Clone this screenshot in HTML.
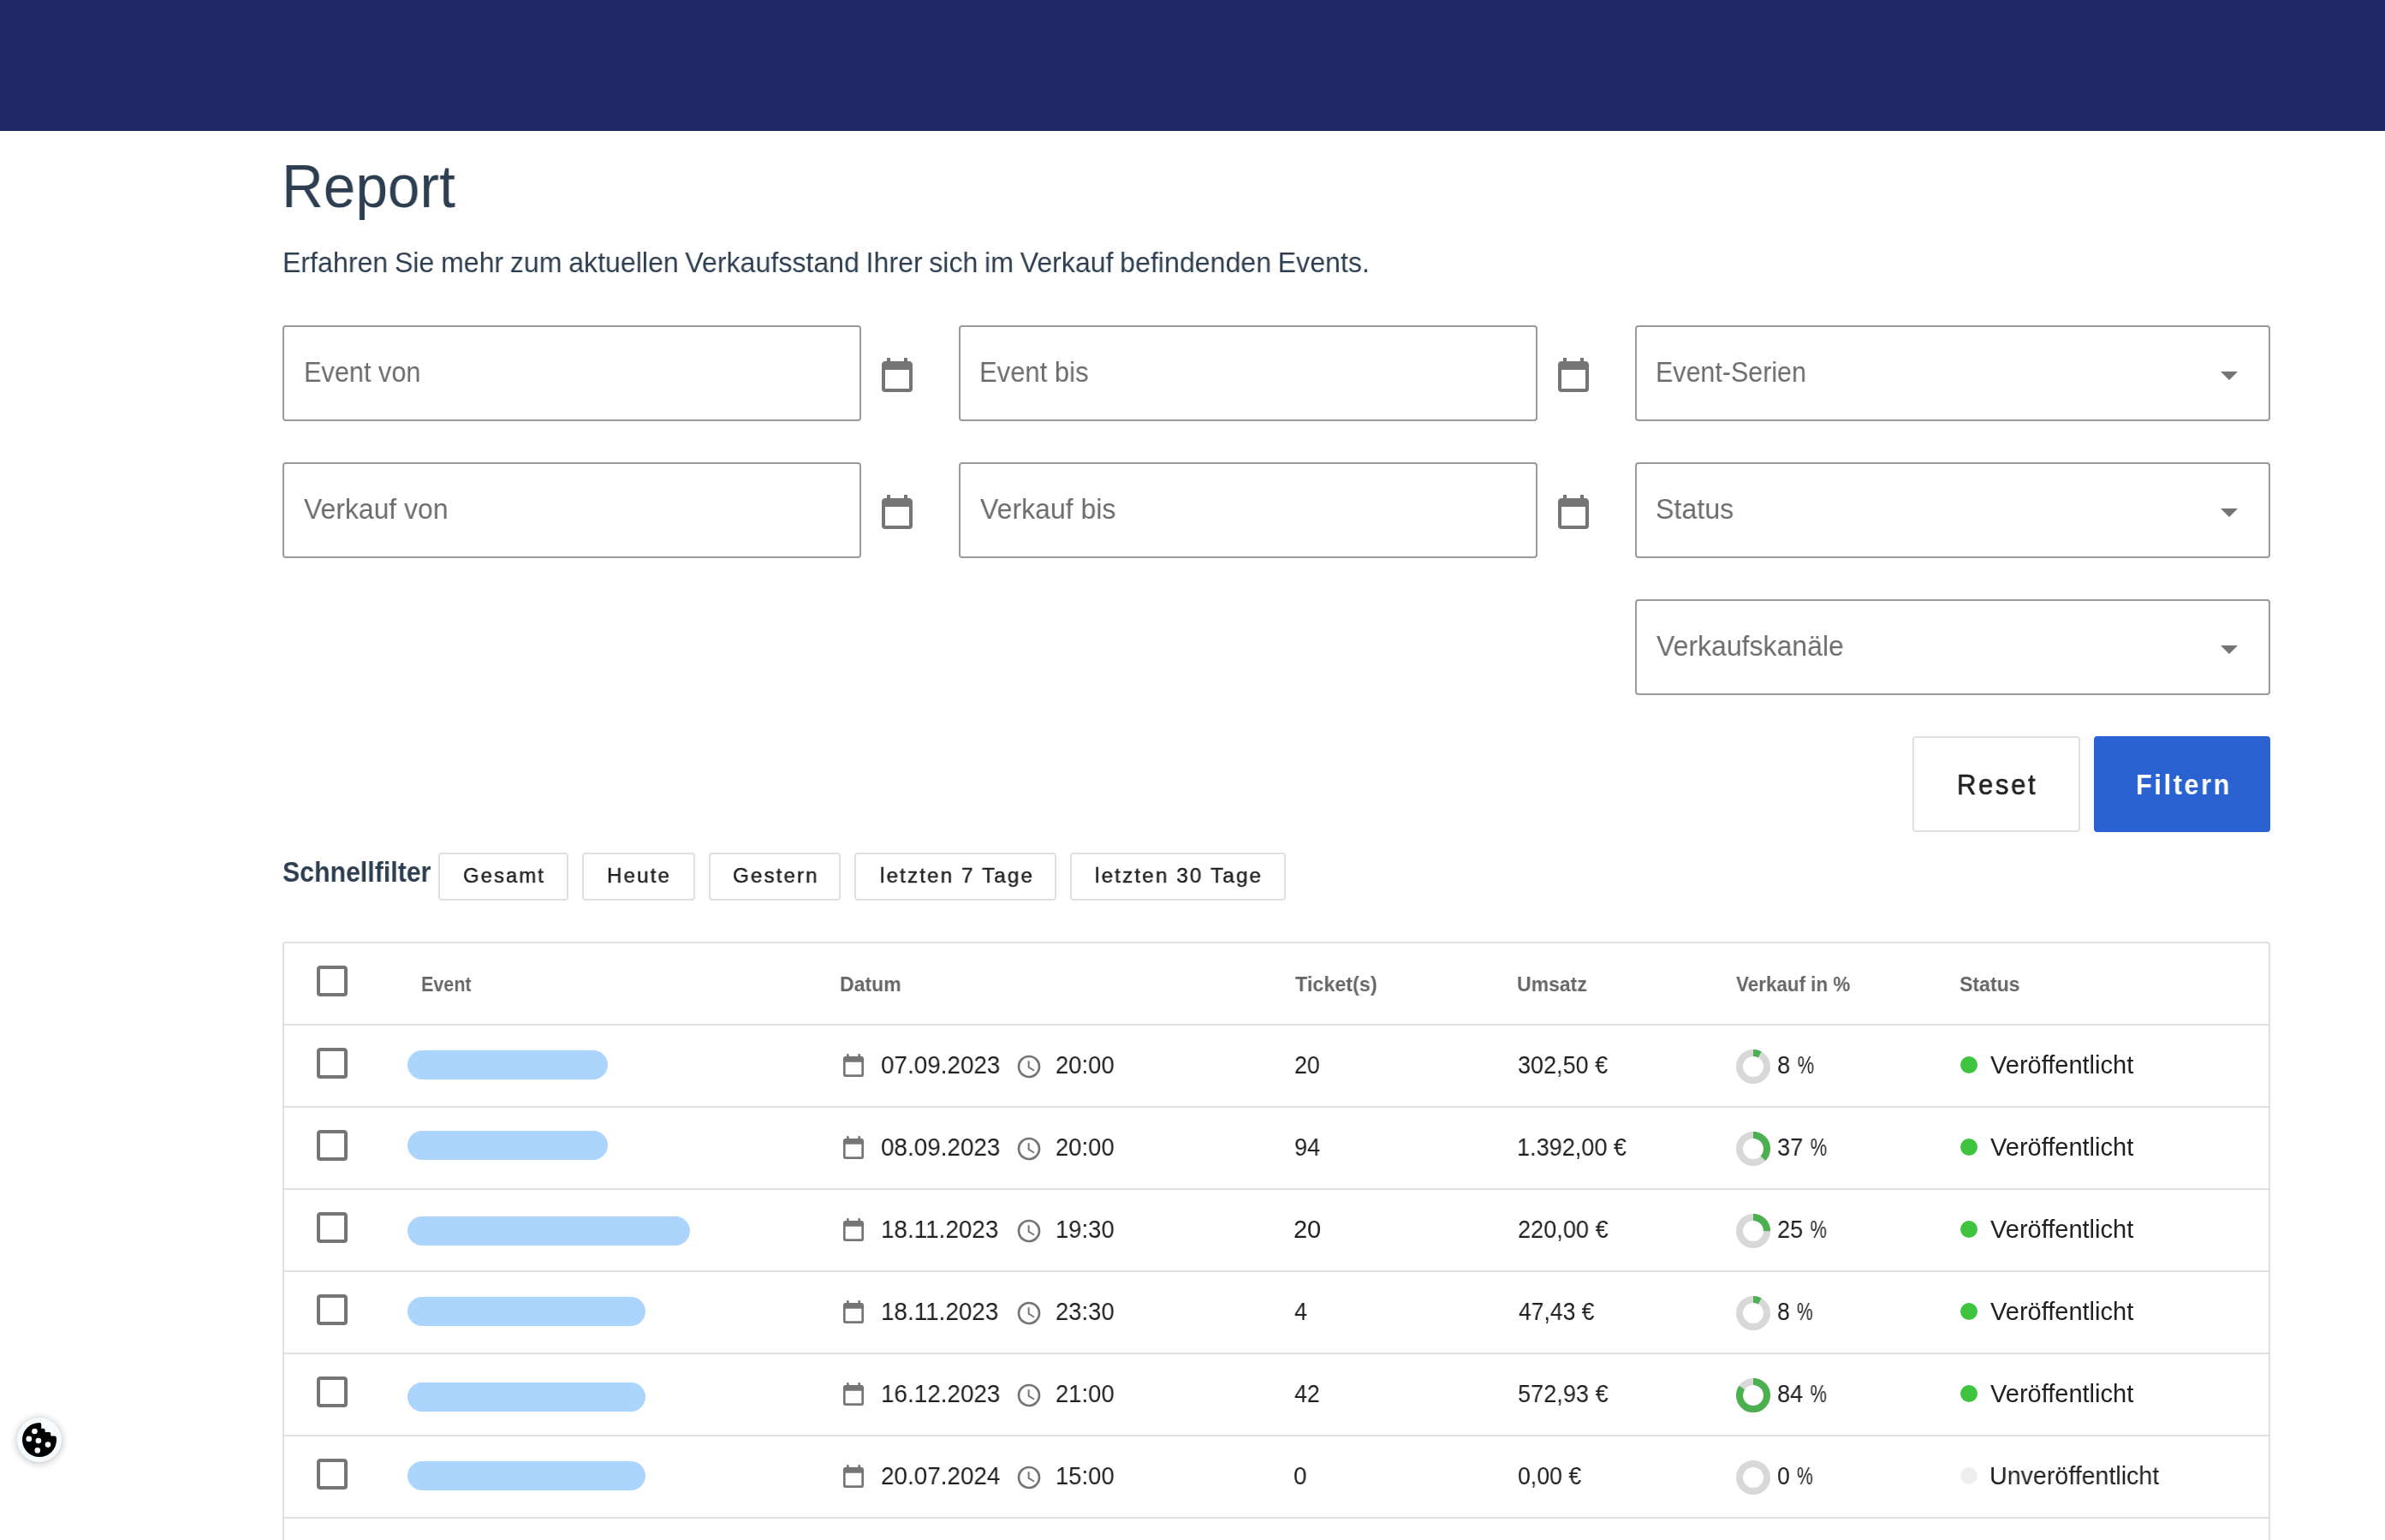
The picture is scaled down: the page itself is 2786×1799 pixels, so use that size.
<!DOCTYPE html>
<html lang="de"><head><meta charset="utf-8"><title>Report</title>
<style>
html,body{margin:0;padding:0;background:#fff;}
body{width:2786px;height:1799px;overflow:hidden;position:relative;font-family:"Liberation Sans",sans-serif;}
.t{position:absolute;white-space:nowrap;line-height:1;display:block;transform-origin:0 50%;will-change:transform;}
.pc{display:inline-block;transform:scaleX(.80);transform-origin:0 50%;margin-left:0.5px;}
.i{position:absolute;display:block;}
.abs{position:absolute;box-sizing:border-box;}
.hdr{left:0;top:0;width:2786px;height:153px;background:#202868;}
.field{height:112px;border:2px solid #9a9a9a;border-radius:4px;background:#fff;}
.btn{border:2px solid #e0e0e0;border-radius:4px;background:#fff;}
.table{left:330px;top:1100px;width:2322px;height:800px;border:2px solid #e0e0e0;border-radius:4px;background:#fff;}
.line{left:332px;width:2318px;height:2px;background:#e0e0e0;}
.pill{height:34px;border-radius:17px;background:#abd5fd;}
.dot{width:20px;height:20px;border-radius:50%;}
</style></head><body>
<div class="abs hdr"></div>
<span id="title" class="t" style="left:329.20px;top:182.82px;font-size:70.38px;font-weight:400;color:#2c3e50;letter-spacing:0.000px;transform:scaleX(0.9599);">Report</span>
<span id="sub" class="t" style="left:329.60px;top:289.56px;font-size:33.12px;font-weight:400;color:#2c3e50;letter-spacing:0.000px;word-spacing:-1.3px;transform:scaleX(0.9701);">Erfahren Sie mehr zum aktuellen Verkaufsstand Ihrer sich im Verkauf befindenden Events.</span>
<div class="abs field" style="left:330px;top:380px;width:676px"></div>
<span id="f1" class="t" style="left:354.50px;top:417.66px;font-size:33.12px;font-weight:400;color:#6c6c6c;letter-spacing:0.000px;transform:scaleX(0.9266);">Event von</span>
<svg class="i " style="left:1024.00px;top:416.00px" width="48" height="48" viewBox="0 0 24 24"><path fill="#757575" d="M19,19H5V8H19M16,1V3H8V1H6V3H5C3.89,3 3,3.89 3,5V19A2,2 0 0,0 5,21H19A2,2 0 0,0 21,19V5C21,3.89 20.1,3 19,3H18V1"/></svg>
<div class="abs field" style="left:1120px;top:380px;width:676px"></div>
<span id="f2" class="t" style="left:1144.30px;top:417.66px;font-size:33.12px;font-weight:400;color:#6c6c6c;letter-spacing:0.000px;transform:scaleX(0.9362);">Event bis</span>
<svg class="i " style="left:1814.00px;top:416.00px" width="48" height="48" viewBox="0 0 24 24"><path fill="#757575" d="M19,19H5V8H19M16,1V3H8V1H6V3H5C3.89,3 3,3.89 3,5V19A2,2 0 0,0 5,21H19A2,2 0 0,0 21,19V5C21,3.89 20.1,3 19,3H18V1"/></svg>
<div class="abs field" style="left:1910px;top:380px;width:742px"></div>
<span id="f3" class="t" style="left:1934.30px;top:417.66px;font-size:33.12px;font-weight:400;color:#6c6c6c;letter-spacing:0.000px;transform:scaleX(0.9189);">Event-Serien</span>
<svg class="i " style="left:2580.00px;top:414.00px" width="48" height="48" viewBox="0 0 24 24"><path fill="#757575" d="M7,10L12,15L17,10H7Z"/></svg>
<div class="abs field" style="left:330px;top:540px;width:676px"></div>
<span id="f4" class="t" style="left:355.30px;top:577.66px;font-size:33.12px;font-weight:400;color:#6c6c6c;letter-spacing:0.000px;transform:scaleX(0.9633);">Verkauf von</span>
<svg class="i " style="left:1024.00px;top:576.00px" width="48" height="48" viewBox="0 0 24 24"><path fill="#757575" d="M19,19H5V8H19M16,1V3H8V1H6V3H5C3.89,3 3,3.89 3,5V19A2,2 0 0,0 5,21H19A2,2 0 0,0 21,19V5C21,3.89 20.1,3 19,3H18V1"/></svg>
<div class="abs field" style="left:1120px;top:540px;width:676px"></div>
<span id="f5" class="t" style="left:1145.30px;top:577.66px;font-size:33.12px;font-weight:400;color:#6c6c6c;letter-spacing:0.000px;transform:scaleX(0.9668);">Verkauf bis</span>
<svg class="i " style="left:1814.00px;top:576.00px" width="48" height="48" viewBox="0 0 24 24"><path fill="#757575" d="M19,19H5V8H19M16,1V3H8V1H6V3H5C3.89,3 3,3.89 3,5V19A2,2 0 0,0 5,21H19A2,2 0 0,0 21,19V5C21,3.89 20.1,3 19,3H18V1"/></svg>
<div class="abs field" style="left:1910px;top:540px;width:742px"></div>
<span id="f6" class="t" style="left:1933.70px;top:577.66px;font-size:33.12px;font-weight:400;color:#6c6c6c;letter-spacing:0.000px;transform:scaleX(0.9716);">Status</span>
<svg class="i " style="left:2580.00px;top:574.00px" width="48" height="48" viewBox="0 0 24 24"><path fill="#757575" d="M7,10L12,15L17,10H7Z"/></svg>
<div class="abs field" style="left:1910px;top:700px;width:742px"></div>
<span id="f7" class="t" style="left:1934.70px;top:737.66px;font-size:33.12px;font-weight:400;color:#6c6c6c;letter-spacing:0.000px;transform:scaleX(0.9662);">Verkaufskanäle</span>
<svg class="i " style="left:2580.00px;top:734.00px" width="48" height="48" viewBox="0 0 24 24"><path fill="#757575" d="M7,10L12,15L17,10H7Z"/></svg>
<div class="abs btn" style="left:2234px;top:860px;width:196px;height:112px"></div>
<span id="reset" class="t" style="left:2285.50px;top:900.06px;font-size:33.12px;font-weight:400;color:#212121;letter-spacing:2.860px;-webkit-text-stroke:0.6px #212121;transform:scaleX(0.9344);">Reset</span>
<div class="abs" style="left:2446px;top:860px;width:206px;height:112px;border-radius:4px;background:#2a62d2"></div>
<span id="filtern" class="t" style="left:2494.80px;top:900.06px;font-size:33.12px;font-weight:700;color:#ffffff;letter-spacing:2.860px;transform:scaleX(0.9248);">Filtern</span>
<span id="sf" class="t" style="left:329.80px;top:1001.76px;font-size:33.12px;font-weight:700;color:#2c3e50;letter-spacing:0.000px;transform:scaleX(0.9149);">Schnellfilter</span>
<div class="abs btn" style="left:512px;top:996px;width:152px;height:56px"></div>
<span id="q1" class="t" style="left:541.30px;top:1011.27px;font-size:24.84px;font-weight:400;color:#212121;letter-spacing:2.140px;-webkit-text-stroke:0.45px #212121;transform:scaleX(0.9611);">Gesamt</span>
<div class="abs btn" style="left:680px;top:996px;width:132px;height:56px"></div>
<span id="q2" class="t" style="left:709.20px;top:1011.27px;font-size:24.84px;font-weight:400;color:#212121;letter-spacing:2.140px;-webkit-text-stroke:0.45px #212121;transform:scaleX(0.9744);">Heute</span>
<div class="abs btn" style="left:828px;top:996px;width:154px;height:56px"></div>
<span id="q3" class="t" style="left:855.70px;top:1011.27px;font-size:24.84px;font-weight:400;color:#212121;letter-spacing:2.140px;-webkit-text-stroke:0.45px #212121;transform:scaleX(0.9743);">Gestern</span>
<div class="abs btn" style="left:998px;top:996px;width:236px;height:56px"></div>
<span id="q4" class="t" style="left:1027.60px;top:1011.27px;font-size:24.84px;font-weight:400;color:#212121;letter-spacing:2.140px;-webkit-text-stroke:0.45px #212121;transform:scaleX(0.9778);">letzten 7 Tage</span>
<div class="abs btn" style="left:1250px;top:996px;width:252px;height:56px"></div>
<span id="q5" class="t" style="left:1279.00px;top:1011.27px;font-size:24.84px;font-weight:400;color:#212121;letter-spacing:2.140px;-webkit-text-stroke:0.45px #212121;transform:scaleX(0.9804);">letzten 30 Tage</span>
<div class="abs table"></div>
<svg class="i " style="left:364.00px;top:1122.00px" width="48" height="48" viewBox="0 0 24 24"><path fill="#757575" d="M19,3H5C3.89,3 3,3.89 3,5V19A2,2 0 0,0 5,21H19A2,2 0 0,0 21,19V5C21,3.89 20.1,3 19,3M19,5V19H5V5H19Z"/></svg>
<span id="h1" class="t" style="left:492.00px;top:1138.17px;font-size:24.84px;font-weight:700;color:#666666;letter-spacing:0.000px;transform:scaleX(0.8666);">Event</span>
<span id="h2" class="t" style="left:980.80px;top:1138.17px;font-size:24.84px;font-weight:700;color:#666666;letter-spacing:0.000px;transform:scaleX(0.9267);">Datum</span>
<span id="h3" class="t" style="left:1512.60px;top:1138.17px;font-size:24.84px;font-weight:700;color:#666666;letter-spacing:0.000px;transform:scaleX(0.9406);">Ticket(s)</span>
<span id="h4" class="t" style="left:1772.40px;top:1138.17px;font-size:24.84px;font-weight:700;color:#666666;letter-spacing:0.000px;transform:scaleX(0.9260);">Umsatz</span>
<span id="h5" class="t" style="left:2028.40px;top:1138.17px;font-size:24.84px;font-weight:700;color:#666666;letter-spacing:0.000px;transform:scaleX(0.9027);">Verkauf in %</span>
<span id="h6" class="t" style="left:2289.00px;top:1138.17px;font-size:24.84px;font-weight:700;color:#666666;letter-spacing:0.000px;transform:scaleX(0.9283);">Status</span>
<div class="abs line" style="top:1196px"></div>
<svg class="i " style="left:364.00px;top:1218.00px" width="48" height="48" viewBox="0 0 24 24"><path fill="#757575" d="M19,3H5C3.89,3 3,3.89 3,5V19A2,2 0 0,0 5,21H19A2,2 0 0,0 21,19V5C21,3.89 20.1,3 19,3M19,5V19H5V5H19Z"/></svg>
<div class="abs pill" style="left:476px;top:1227px;width:234px"></div>
<svg class="i " style="left:980.70px;top:1230.00px" width="32" height="32" viewBox="0 0 24 24"><path fill="#757575" d="M19,19H5V8H19M16,1V3H8V1H6V3H5C3.89,3 3,3.89 3,5V19A2,2 0 0,0 5,21H19A2,2 0 0,0 21,19V5C21,3.89 20.1,3 19,3H18V1"/></svg>
<span id="r1d" class="t" style="left:1028.70px;top:1229.77px;font-size:28.98px;font-weight:400;color:#212121;letter-spacing:0.000px;transform:scaleX(0.9614);">07.09.2023</span>
<svg class="i " style="left:1185.50px;top:1230.00px" width="32" height="32" viewBox="0 0 24 24"><path fill="#757575" d="M12,20A8,8 0 0,0 20,12A8,8 0 0,0 12,4A8,8 0 0,0 4,12A8,8 0 0,0 12,20M12,2A10,10 0 0,1 22,12A10,10 0 0,1 12,22C6.47,22 2,17.5 2,12A10,10 0 0,1 12,2M12.5,7V12.25L17,14.92L16.25,16.15L11,13V7H12.5Z"/></svg>
<span id="r1t" class="t" style="left:1233.30px;top:1229.77px;font-size:28.98px;font-weight:400;color:#212121;letter-spacing:0.000px;transform:scaleX(0.9460);">20:00</span>
<span id="r1k" class="t" style="left:1511.60px;top:1229.77px;font-size:28.98px;font-weight:400;color:#212121;letter-spacing:0.000px;transform:scaleX(0.9237);">20</span>
<span id="r1u" class="t" style="left:1772.90px;top:1229.77px;font-size:28.98px;font-weight:400;color:#212121;letter-spacing:0.000px;transform:scaleX(0.9316);">302,50 €</span>
<svg class="i" style="left:2028px;top:1226px" width="40" height="40" viewBox="25 25 50 50"><g transform="rotate(-90 50 50)"><circle cx="50" cy="50" r="20" fill="none" stroke="#d8d8d8" stroke-width="10"/><circle cx="50" cy="50" r="20" fill="none" stroke="#4caf50" stroke-width="10" stroke-dasharray="125.664" stroke-dashoffset="115.611"/></g></svg>
<span id="r1p" class="t" style="left:2075.70px;top:1229.77px;font-size:28.98px;font-weight:400;color:#212121;letter-spacing:0.000px;transform:scaleX(0.9455);">8 <span class="pc">%</span></span>
<div class="abs dot" style="left:2290px;top:1234px;background:#3ec43e"></div>
<span id="r1s" class="t" style="left:2325.40px;top:1229.77px;font-size:28.98px;font-weight:400;color:#212121;letter-spacing:0.000px;transform:scaleX(1.0014);">Veröffentlicht</span>
<div class="abs line" style="top:1292px"></div>
<svg class="i " style="left:364.00px;top:1314.00px" width="48" height="48" viewBox="0 0 24 24"><path fill="#757575" d="M19,3H5C3.89,3 3,3.89 3,5V19A2,2 0 0,0 5,21H19A2,2 0 0,0 21,19V5C21,3.89 20.1,3 19,3M19,5V19H5V5H19Z"/></svg>
<div class="abs pill" style="left:476px;top:1321px;width:234px"></div>
<svg class="i " style="left:980.70px;top:1326.00px" width="32" height="32" viewBox="0 0 24 24"><path fill="#757575" d="M19,19H5V8H19M16,1V3H8V1H6V3H5C3.89,3 3,3.89 3,5V19A2,2 0 0,0 5,21H19A2,2 0 0,0 21,19V5C21,3.89 20.1,3 19,3H18V1"/></svg>
<span id="r2d" class="t" style="left:1028.70px;top:1325.77px;font-size:28.98px;font-weight:400;color:#212121;letter-spacing:0.000px;transform:scaleX(0.9614);">08.09.2023</span>
<svg class="i " style="left:1185.50px;top:1326.00px" width="32" height="32" viewBox="0 0 24 24"><path fill="#757575" d="M12,20A8,8 0 0,0 20,12A8,8 0 0,0 12,4A8,8 0 0,0 4,12A8,8 0 0,0 12,20M12,2A10,10 0 0,1 22,12A10,10 0 0,1 12,22C6.47,22 2,17.5 2,12A10,10 0 0,1 12,2M12.5,7V12.25L17,14.92L16.25,16.15L11,13V7H12.5Z"/></svg>
<span id="r2t" class="t" style="left:1233.30px;top:1325.77px;font-size:28.98px;font-weight:400;color:#212121;letter-spacing:0.000px;transform:scaleX(0.9460);">20:00</span>
<span id="r2k" class="t" style="left:1511.60px;top:1325.77px;font-size:28.98px;font-weight:400;color:#212121;letter-spacing:0.000px;transform:scaleX(0.9401);">94</span>
<span id="r2u" class="t" style="left:1772.40px;top:1325.77px;font-size:28.98px;font-weight:400;color:#212121;letter-spacing:0.000px;transform:scaleX(0.9346);">1.392,00 €</span>
<svg class="i" style="left:2028px;top:1322px" width="40" height="40" viewBox="25 25 50 50"><g transform="rotate(-90 50 50)"><circle cx="50" cy="50" r="20" fill="none" stroke="#d8d8d8" stroke-width="10"/><circle cx="50" cy="50" r="20" fill="none" stroke="#4caf50" stroke-width="10" stroke-dasharray="125.664" stroke-dashoffset="79.168"/></g></svg>
<span id="r2p" class="t" style="left:2075.70px;top:1325.77px;font-size:28.98px;font-weight:400;color:#212121;letter-spacing:0.000px;transform:scaleX(0.9429);">37 <span class="pc">%</span></span>
<div class="abs dot" style="left:2290px;top:1330px;background:#3ec43e"></div>
<span id="r2s" class="t" style="left:2325.40px;top:1325.77px;font-size:28.98px;font-weight:400;color:#212121;letter-spacing:0.000px;transform:scaleX(1.0014);">Veröffentlicht</span>
<div class="abs line" style="top:1388px"></div>
<svg class="i " style="left:364.00px;top:1410.00px" width="48" height="48" viewBox="0 0 24 24"><path fill="#757575" d="M19,3H5C3.89,3 3,3.89 3,5V19A2,2 0 0,0 5,21H19A2,2 0 0,0 21,19V5C21,3.89 20.1,3 19,3M19,5V19H5V5H19Z"/></svg>
<div class="abs pill" style="left:476px;top:1421px;width:330px"></div>
<svg class="i " style="left:980.70px;top:1422.00px" width="32" height="32" viewBox="0 0 24 24"><path fill="#757575" d="M19,19H5V8H19M16,1V3H8V1H6V3H5C3.89,3 3,3.89 3,5V19A2,2 0 0,0 5,21H19A2,2 0 0,0 21,19V5C21,3.89 20.1,3 19,3H18V1"/></svg>
<span id="r3d" class="t" style="left:1028.70px;top:1421.77px;font-size:28.98px;font-weight:400;color:#212121;letter-spacing:0.000px;transform:scaleX(0.9614);">18.11.2023</span>
<svg class="i " style="left:1185.50px;top:1422.00px" width="32" height="32" viewBox="0 0 24 24"><path fill="#757575" d="M12,20A8,8 0 0,0 20,12A8,8 0 0,0 12,4A8,8 0 0,0 4,12A8,8 0 0,0 12,20M12,2A10,10 0 0,1 22,12A10,10 0 0,1 12,22C6.47,22 2,17.5 2,12A10,10 0 0,1 12,2M12.5,7V12.25L17,14.92L16.25,16.15L11,13V7H12.5Z"/></svg>
<span id="r3t" class="t" style="left:1233.30px;top:1421.77px;font-size:28.98px;font-weight:400;color:#212121;letter-spacing:0.000px;transform:scaleX(0.9460);">19:30</span>
<span id="r3k" class="t" style="left:1511.10px;top:1421.77px;font-size:28.98px;font-weight:400;color:#212121;letter-spacing:0.000px;transform:scaleX(0.9850);">20</span>
<span id="r3u" class="t" style="left:1772.80px;top:1421.77px;font-size:28.98px;font-weight:400;color:#212121;letter-spacing:0.000px;transform:scaleX(0.9360);">220,00 €</span>
<svg class="i" style="left:2028px;top:1418px" width="40" height="40" viewBox="25 25 50 50"><g transform="rotate(-90 50 50)"><circle cx="50" cy="50" r="20" fill="none" stroke="#d8d8d8" stroke-width="10"/><circle cx="50" cy="50" r="20" fill="none" stroke="#4caf50" stroke-width="10" stroke-dasharray="125.664" stroke-dashoffset="94.248"/></g></svg>
<span id="r3p" class="t" style="left:2076.00px;top:1421.77px;font-size:28.98px;font-weight:400;color:#212121;letter-spacing:0.000px;transform:scaleX(0.9395);">25 <span class="pc">%</span></span>
<div class="abs dot" style="left:2290px;top:1426px;background:#3ec43e"></div>
<span id="r3s" class="t" style="left:2325.40px;top:1421.77px;font-size:28.98px;font-weight:400;color:#212121;letter-spacing:0.000px;transform:scaleX(1.0014);">Veröffentlicht</span>
<div class="abs line" style="top:1484px"></div>
<svg class="i " style="left:364.00px;top:1506.00px" width="48" height="48" viewBox="0 0 24 24"><path fill="#757575" d="M19,3H5C3.89,3 3,3.89 3,5V19A2,2 0 0,0 5,21H19A2,2 0 0,0 21,19V5C21,3.89 20.1,3 19,3M19,5V19H5V5H19Z"/></svg>
<div class="abs pill" style="left:476px;top:1515px;width:278px"></div>
<svg class="i " style="left:980.70px;top:1518.00px" width="32" height="32" viewBox="0 0 24 24"><path fill="#757575" d="M19,19H5V8H19M16,1V3H8V1H6V3H5C3.89,3 3,3.89 3,5V19A2,2 0 0,0 5,21H19A2,2 0 0,0 21,19V5C21,3.89 20.1,3 19,3H18V1"/></svg>
<span id="r4d" class="t" style="left:1028.70px;top:1517.77px;font-size:28.98px;font-weight:400;color:#212121;letter-spacing:0.000px;transform:scaleX(0.9614);">18.11.2023</span>
<svg class="i " style="left:1185.50px;top:1518.00px" width="32" height="32" viewBox="0 0 24 24"><path fill="#757575" d="M12,20A8,8 0 0,0 20,12A8,8 0 0,0 12,4A8,8 0 0,0 4,12A8,8 0 0,0 12,20M12,2A10,10 0 0,1 22,12A10,10 0 0,1 12,22C6.47,22 2,17.5 2,12A10,10 0 0,1 12,2M12.5,7V12.25L17,14.92L16.25,16.15L11,13V7H12.5Z"/></svg>
<span id="r4t" class="t" style="left:1233.30px;top:1517.77px;font-size:28.98px;font-weight:400;color:#212121;letter-spacing:0.000px;transform:scaleX(0.9460);">23:30</span>
<span id="r4k" class="t" style="left:1512.10px;top:1517.77px;font-size:28.98px;font-weight:400;color:#212121;letter-spacing:0.000px;transform:scaleX(0.9274);">4</span>
<span id="r4u" class="t" style="left:1773.80px;top:1517.77px;font-size:28.98px;font-weight:400;color:#212121;letter-spacing:0.000px;transform:scaleX(0.9137);">47,43 €</span>
<svg class="i" style="left:2028px;top:1514px" width="40" height="40" viewBox="25 25 50 50"><g transform="rotate(-90 50 50)"><circle cx="50" cy="50" r="20" fill="none" stroke="#d8d8d8" stroke-width="10"/><circle cx="50" cy="50" r="20" fill="none" stroke="#4caf50" stroke-width="10" stroke-dasharray="125.664" stroke-dashoffset="115.611"/></g></svg>
<span id="r4p" class="t" style="left:2076.00px;top:1517.77px;font-size:28.98px;font-weight:400;color:#212121;letter-spacing:0.000px;transform:scaleX(0.9144);">8 <span class="pc">%</span></span>
<div class="abs dot" style="left:2290px;top:1522px;background:#3ec43e"></div>
<span id="r4s" class="t" style="left:2325.40px;top:1517.77px;font-size:28.98px;font-weight:400;color:#212121;letter-spacing:0.000px;transform:scaleX(1.0014);">Veröffentlicht</span>
<div class="abs line" style="top:1580px"></div>
<svg class="i " style="left:364.00px;top:1602.00px" width="48" height="48" viewBox="0 0 24 24"><path fill="#757575" d="M19,3H5C3.89,3 3,3.89 3,5V19A2,2 0 0,0 5,21H19A2,2 0 0,0 21,19V5C21,3.89 20.1,3 19,3M19,5V19H5V5H19Z"/></svg>
<div class="abs pill" style="left:476px;top:1615px;width:278px"></div>
<svg class="i " style="left:980.70px;top:1614.00px" width="32" height="32" viewBox="0 0 24 24"><path fill="#757575" d="M19,19H5V8H19M16,1V3H8V1H6V3H5C3.89,3 3,3.89 3,5V19A2,2 0 0,0 5,21H19A2,2 0 0,0 21,19V5C21,3.89 20.1,3 19,3H18V1"/></svg>
<span id="r5d" class="t" style="left:1028.70px;top:1613.77px;font-size:28.98px;font-weight:400;color:#212121;letter-spacing:0.000px;transform:scaleX(0.9614);">16.12.2023</span>
<svg class="i " style="left:1185.50px;top:1614.00px" width="32" height="32" viewBox="0 0 24 24"><path fill="#757575" d="M12,20A8,8 0 0,0 20,12A8,8 0 0,0 12,4A8,8 0 0,0 4,12A8,8 0 0,0 12,20M12,2A10,10 0 0,1 22,12A10,10 0 0,1 12,22C6.47,22 2,17.5 2,12A10,10 0 0,1 12,2M12.5,7V12.25L17,14.92L16.25,16.15L11,13V7H12.5Z"/></svg>
<span id="r5t" class="t" style="left:1233.30px;top:1613.77px;font-size:28.98px;font-weight:400;color:#212121;letter-spacing:0.000px;transform:scaleX(0.9460);">21:00</span>
<span id="r5k" class="t" style="left:1511.60px;top:1613.77px;font-size:28.98px;font-weight:400;color:#212121;letter-spacing:0.000px;transform:scaleX(0.9237);">42</span>
<span id="r5u" class="t" style="left:1772.80px;top:1613.77px;font-size:28.98px;font-weight:400;color:#212121;letter-spacing:0.000px;transform:scaleX(0.9360);">572,93 €</span>
<svg class="i" style="left:2028px;top:1610px" width="40" height="40" viewBox="25 25 50 50"><g transform="rotate(-90 50 50)"><circle cx="50" cy="50" r="20" fill="none" stroke="#d8d8d8" stroke-width="10"/><circle cx="50" cy="50" r="20" fill="none" stroke="#4caf50" stroke-width="10" stroke-dasharray="125.664" stroke-dashoffset="20.106"/></g></svg>
<span id="r5p" class="t" style="left:2076.00px;top:1613.77px;font-size:28.98px;font-weight:400;color:#212121;letter-spacing:0.000px;transform:scaleX(0.9395);">84 <span class="pc">%</span></span>
<div class="abs dot" style="left:2290px;top:1618px;background:#3ec43e"></div>
<span id="r5s" class="t" style="left:2325.40px;top:1613.77px;font-size:28.98px;font-weight:400;color:#212121;letter-spacing:0.000px;transform:scaleX(1.0014);">Veröffentlicht</span>
<div class="abs line" style="top:1676px"></div>
<svg class="i " style="left:364.00px;top:1698.00px" width="48" height="48" viewBox="0 0 24 24"><path fill="#757575" d="M19,3H5C3.89,3 3,3.89 3,5V19A2,2 0 0,0 5,21H19A2,2 0 0,0 21,19V5C21,3.89 20.1,3 19,3M19,5V19H5V5H19Z"/></svg>
<div class="abs pill" style="left:476px;top:1707px;width:278px"></div>
<svg class="i " style="left:980.70px;top:1710.00px" width="32" height="32" viewBox="0 0 24 24"><path fill="#757575" d="M19,19H5V8H19M16,1V3H8V1H6V3H5C3.89,3 3,3.89 3,5V19A2,2 0 0,0 5,21H19A2,2 0 0,0 21,19V5C21,3.89 20.1,3 19,3H18V1"/></svg>
<span id="r6d" class="t" style="left:1028.70px;top:1709.77px;font-size:28.98px;font-weight:400;color:#212121;letter-spacing:0.000px;transform:scaleX(0.9614);">20.07.2024</span>
<svg class="i " style="left:1185.50px;top:1710.00px" width="32" height="32" viewBox="0 0 24 24"><path fill="#757575" d="M12,20A8,8 0 0,0 20,12A8,8 0 0,0 12,4A8,8 0 0,0 4,12A8,8 0 0,0 12,20M12,2A10,10 0 0,1 22,12A10,10 0 0,1 12,22C6.47,22 2,17.5 2,12A10,10 0 0,1 12,2M12.5,7V12.25L17,14.92L16.25,16.15L11,13V7H12.5Z"/></svg>
<span id="r6t" class="t" style="left:1233.30px;top:1709.77px;font-size:28.98px;font-weight:400;color:#212121;letter-spacing:0.000px;transform:scaleX(0.9460);">15:00</span>
<span id="r6k" class="t" style="left:1511.10px;top:1709.77px;font-size:28.98px;font-weight:400;color:#212121;letter-spacing:0.000px;transform:scaleX(0.9603);">0</span>
<span id="r6u" class="t" style="left:1772.80px;top:1709.77px;font-size:28.98px;font-weight:400;color:#212121;letter-spacing:0.000px;transform:scaleX(0.9199);">0,00 €</span>
<svg class="i" style="left:2028px;top:1706px" width="40" height="40" viewBox="25 25 50 50"><g transform="rotate(-90 50 50)"><circle cx="50" cy="50" r="20" fill="none" stroke="#d8d8d8" stroke-width="10"/></g></svg>
<span id="r6p" class="t" style="left:2076.00px;top:1709.77px;font-size:28.98px;font-weight:400;color:#212121;letter-spacing:0.000px;transform:scaleX(0.9154);">0 <span class="pc">%</span></span>
<div class="abs dot" style="left:2290px;top:1714px;background:#eeeeee"></div>
<span id="r6s" class="t" style="left:2323.50px;top:1709.77px;font-size:28.98px;font-weight:400;color:#212121;letter-spacing:0.000px;transform:scaleX(0.9872);">Unveröffentlicht</span>
<div class="abs line" style="top:1772px"></div>
<div class="abs" style="left:20px;top:1656px;width:52px;height:52px;border-radius:50%;background:#f5fbff;box-shadow:0 1px 10px rgba(0,0,0,.28)"></div>
<svg class="i" style="left:26px;top:1662px" width="40" height="40" viewBox="3 3 18 18"><path fill="#000" d="M12,3A9,9 0 0,0 3,12A9,9 0 0,0 12,21A9,9 0 0,0 21,12C21,11.5 20.96,11 20.87,10.5C20.6,10 20,10 20,10H18V9C18,8 17,8 17,8H15V7C15,6 14,6 14,6H13V4C13,3 12,3 12,3M9.5,6A1.5,1.5 0 0,1 11,7.5A1.5,1.5 0 0,1 9.5,9A1.5,1.5 0 0,1 8,7.5A1.5,1.5 0 0,1 9.5,6M6.5,10A1.5,1.5 0 0,1 8,11.5A1.5,1.5 0 0,1 6.5,13A1.5,1.5 0 0,1 5,11.5A1.5,1.5 0 0,1 6.5,10M11.5,11A1.5,1.5 0 0,1 13,12.5A1.5,1.5 0 0,1 11.5,14A1.5,1.5 0 0,1 10,12.5A1.5,1.5 0 0,1 11.5,11M16.5,13A1.5,1.5 0 0,1 18,14.5A1.5,1.5 0 0,1 16.5,16H16.5A1.5,1.5 0 0,1 15,14.5H15A1.5,1.5 0 0,1 16.5,13M11,16A1.5,1.5 0 0,1 12.5,17.5A1.5,1.5 0 0,1 11,19A1.5,1.5 0 0,1 9.5,17.5A1.5,1.5 0 0,1 11,16Z"/></svg>
</body></html>
